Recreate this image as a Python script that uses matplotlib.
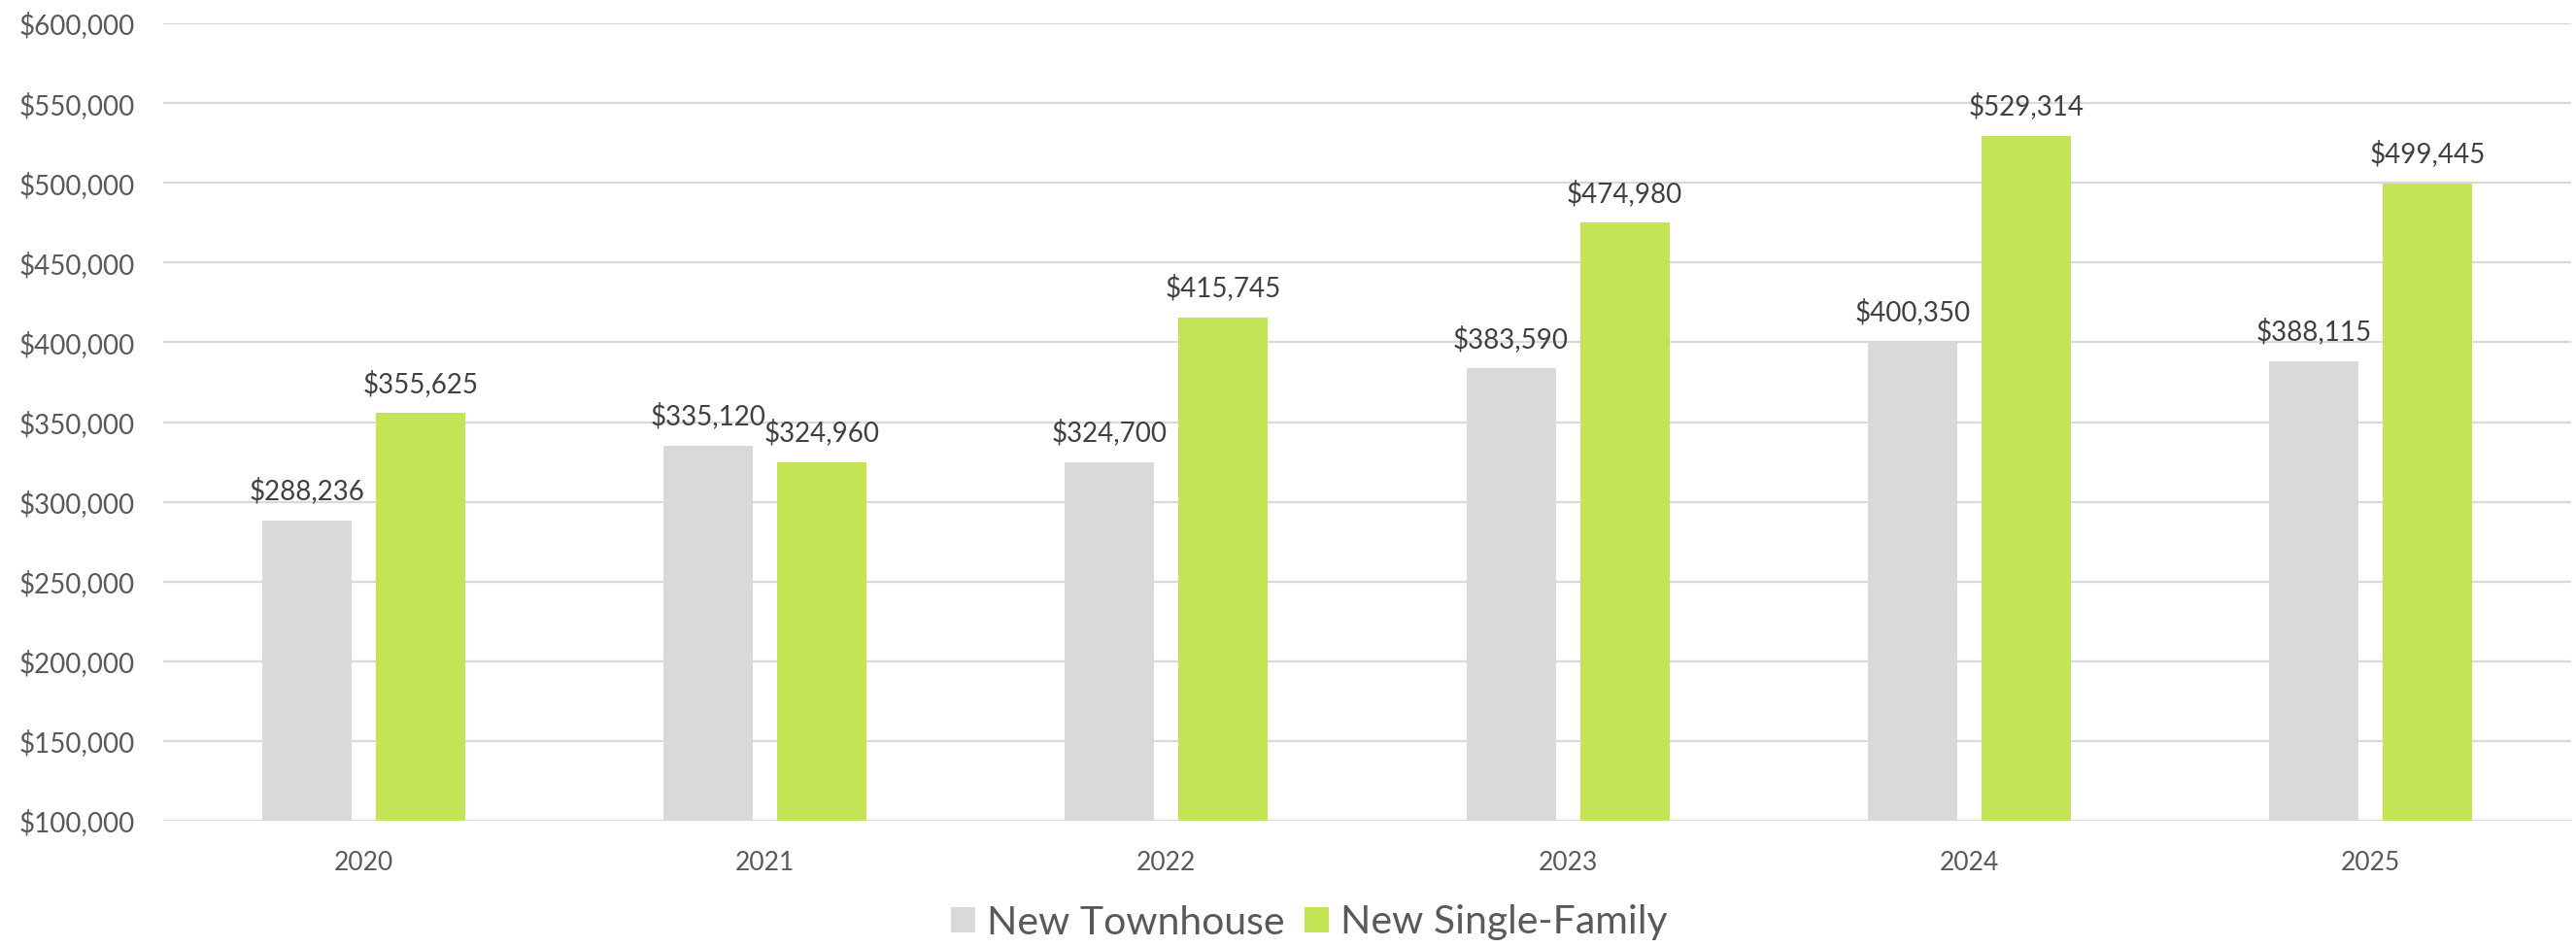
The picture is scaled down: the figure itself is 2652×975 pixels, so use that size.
import matplotlib
matplotlib.use("Agg")
import matplotlib.pyplot as plt
import numpy as np
from matplotlib.ticker import FuncFormatter, MultipleLocator

years = ["2020", "2021", "2022", "2023", "2024", "2025"]
townhouse = [288236, 335120, 324700, 383590, 400350, 388115]
single_family = [355625, 324960, 415745, 474980, 529314, 499445]
series_names = ["New Townhouse", "New Single-Family"]

plt.rcParams['font.family'] = ['Lato', 'DejaVu Sans']

fig = plt.figure(figsize=(26.52, 9.75), dpi=100)
ax = fig.add_axes([168/2652, 1-845/975, (2647-168)/2652, (845-24)/975])

x = np.arange(len(years))
w = 92/413
off = 58.5/413
gray = "#D9D9D9"
green = "#C3E555"
b1 = ax.bar(x - off, townhouse, w, color=gray, label=series_names[0], zorder=3)
b2 = ax.bar(x + off, single_family, w, color=green, label=series_names[1], zorder=3)

for bars, vals in ((b1, townhouse), (b2, single_family)):
    for r, v in zip(bars, vals):
        ax.annotate(f"${v:,.0f}", (r.get_x() + r.get_width()/2, v),
                    xytext=(0, 12), textcoords="offset points",
                    ha="center", va="bottom", fontsize=20, color="#404040", zorder=4)

ax.set_ylim(100000, 600000)
ax.set_xlim(-0.5, len(years) - 0.5)
ax.yaxis.set_major_locator(MultipleLocator(50000))
ax.yaxis.set_major_formatter(FuncFormatter(lambda v, p: f"${v:,.0f}"))
ax.set_xticks(x)
ax.set_xticklabels(years)
ax.tick_params(axis="both", length=0, labelcolor="#595959")
ax.tick_params(axis="y", pad=21, labelsize=20)
ax.tick_params(axis="x", pad=22, labelsize=19)
ax.grid(axis="y", color="#D9D9D9", linewidth=1.6, zorder=0)
for s in ax.spines.values():
    s.set_visible(False)

leg = fig.legend(handles=[b1, b2], labels=series_names, loc="center",
                 bbox_to_anchor=(1348/2652, 1-950/975), ncol=2, frameon=False,
                 fontsize=29.5, handlelength=0.6, handleheight=0.6,
                 handletextpad=0.3, columnspacing=0.5)
for t in leg.get_texts():
    t.set_color("#595959")

fig.savefig("out.png", dpi=100)
